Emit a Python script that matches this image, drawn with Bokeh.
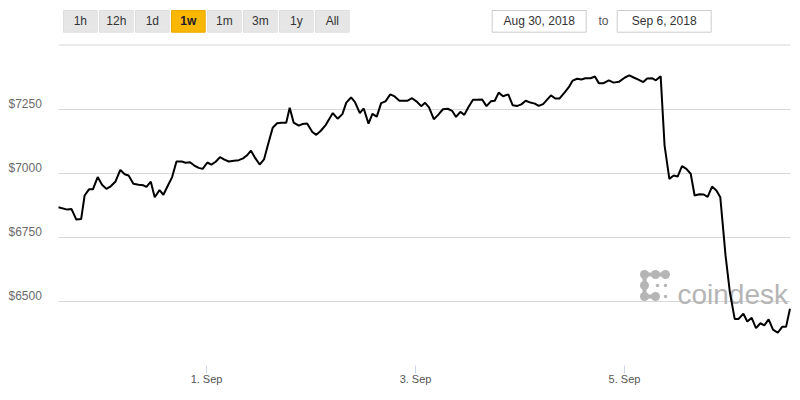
import pandas as pd
from bokeh.plotting import figure
from bokeh.models import (ColumnDataSource, Range1d, FixedTicker, DatetimeTickFormatter)
from bokeh.core.properties import value
from bokeh.embed import file_html
from bokeh.resources import INLINE

# ---------------- data ----------------
start_time = "2018-08-30 14:00"
hours = [0.0, 2.0, 3.0, 4.1, 5.2, 6.0, 7.0, 7.9, 9.0, 10.0,
         11.0, 12.0, 13.1, 14.2, 15.2, 16.1, 17.2, 18.4, 19.5, 20.2,
         21.2, 22.1, 23.2, 24.1, 25.1, 26.1, 27.1, 28.3, 29.2, 30.2,
         31.2, 32.2, 33.1, 34.2, 35.1, 36.1, 37.1, 38.1, 39.1, 40.3,
         41.4, 42.4, 43.3, 44.2, 45.2, 46.2, 47.2, 48.2, 49.2, 50.2,
         51.2, 52.3, 53.1, 54.0, 55.2, 56.0, 57.1, 58.3, 59.2, 60.2,
         61.4, 63.0, 64.1, 65.2, 66.1, 67.2, 68.1, 69.2, 70.1, 71.2,
         72.1, 73.1, 74.1, 75.1, 76.2, 77.2, 78.3, 80.1, 81.2, 82.2,
         83.3, 84.2, 85.1, 86.2, 87.2, 88.3, 89.4, 90.4, 91.3, 92.3,
         93.2, 94.1, 95.2, 96.3, 97.3, 98.3, 99.3, 100.2, 101.1, 102.1,
         103.3, 104.3, 105.4, 106.3, 107.3, 108.4, 109.4, 110.3, 111.3, 113.1,
         114.1, 115.1, 116.3, 117.2, 118.1, 119.1, 120.1, 121.0, 122.2, 123.2,
         124.1, 125.2, 126.4, 127.5, 128.7, 130.1, 131.1, 132.1, 133.3, 134.3,
         135.2, 136.4, 137.2, 138.3, 139.2, 140.3, 141.3, 142.2, 143.2, 144.2,
         145.2, 146.1, 147.2, 148.2, 149.1, 150.1, 151.1, 152.0, 153.2, 154.2,
         155.3, 156.2, 157.3, 158.2, 159.2, 160.2, 161.2, 162.1, 163.1, 164.1,
         165.2, 166.2, 167.1, 168.0]
prices = [6868, 6859, 6861, 6820, 6822, 6914, 6938, 6938, 6986, 6956,
          6940, 6950, 6969, 7014, 6997, 6992, 6960, 6956, 6954, 6948,
          6968, 6907, 6935, 6917, 6952, 6986, 7047, 7047, 7042, 7044,
          7031, 7022, 7018, 7043, 7035, 7046, 7064, 7054, 7047, 7050,
          7052, 7059, 7071, 7089, 7060, 7035, 7055, 7118, 7179, 7196,
          7198, 7198, 7257, 7199, 7187, 7193, 7195, 7162, 7151, 7166,
          7190, 7236, 7214, 7232, 7277, 7297, 7279, 7236, 7254, 7195,
          7233, 7222, 7275, 7282, 7309, 7301, 7284, 7284, 7294, 7282,
          7263, 7276, 7258, 7212, 7229, 7251, 7253, 7245, 7221, 7241,
          7229, 7258, 7288, 7288, 7289, 7263, 7282, 7284, 7316, 7302,
          7309, 7267, 7264, 7270, 7284, 7277, 7273, 7264, 7271, 7305,
          7293, 7293, 7318, 7337, 7363, 7370, 7367, 7372, 7372, 7379,
          7353, 7353, 7364, 7355, 7358, 7375, 7383, 7375, 7366, 7357,
          7371, 7372, 7364, 7380, 7109, 6979, 6992, 6988, 7029, 7018,
          6999, 6914, 6919, 6918, 6909, 6949, 6934, 6907, 6680, 6536,
          6432, 6432, 6452, 6422, 6436, 6396, 6415, 6407, 6430, 6390,
          6378, 6401, 6401, 6472]
y_ticks = [6500, 6750, 7000, 7250]
y_tick_labels = ["$6500", "$6750", "$7000", "$7250"]
x_ticks = ["2018-09-01", "2018-09-03", "2018-09-05"]
x_tick_labels = ["1. Sep", "3. Sep", "5. Sep"]
range_buttons = ["1h", "12h", "1d", "1w", "1m", "3m", "1y", "All"]
selected_button = "1w"
date_from = "Aug 30, 2018"
date_to = "Sep 6, 2018"
watermark = "coindesk"

assert len(hours) == len(prices)

FONT = "Liberation Sans"
W, H = 792, 392
BOTTOM = 27                 # space for the time axis
PLOT_LEFT, PLOT_TOP = 58, 45  # where the price area begins on the page

# time / price scales: the frame spans the whole figure except the axis strip
t0 = pd.Timestamp(start_time)
PX_PER_HOUR = 4.354
PX_PER_USD = 64 / 250.0
times = [t0 + pd.Timedelta(hours=h) for h in hours]
ms = lambda t: t.value / 1e6
x_start = ms(t0 - pd.Timedelta(hours=PLOT_LEFT / PX_PER_HOUR))
x_end = ms(t0 + pd.Timedelta(hours=(W - PLOT_LEFT) / PX_PER_HOUR))
t_last = ms(t0 + pd.Timedelta(hours=168.1))
frame_h = H - BOTTOM
y_low = 6250
y_high = y_low + frame_h / PX_PER_USD
x_tick_ms = [ms(pd.Timestamp(d)) for d in x_ticks]

p = figure(width=W, height=H, x_axis_type="datetime",
           x_range=Range1d(x_start, x_end), y_range=Range1d(y_low, y_high),
           toolbar_location=None, output_backend="svg", y_axis_location=None,
           min_border_left=0, min_border_right=0, min_border_top=0, min_border_bottom=BOTTOM)
p.outline_line_color = None
p.background_fill_color = "white"
p.border_fill_color = "white"
p.xgrid.visible = False
p.ygrid.visible = False

# page-pixel helper ranges for the chrome (range selector, watermark)
p.extra_x_ranges = {"px": Range1d(0, W)}
p.extra_y_ranges = {"px": Range1d(frame_h, 0)}

# horizontal grid lines, only across the price area
p.segment(x0=[ms(t0)] * len(y_ticks), x1=[t_last] * len(y_ticks), y0=y_ticks, y1=y_ticks,
          line_color="#d8d8d8", line_width=1)

# y labels, left aligned, sitting just above their grid lines
p.text(x=[ms(t0)] * len(y_ticks), y=y_ticks, text=y_tick_labels, x_offset=-50, y_offset=-6,
       text_align="left", text_baseline="middle", text_font=value(FONT),
       text_font_size="12px", text_color="#6a6a6a")

# time axis
xa = p.xaxis[0]
xa.ticker = FixedTicker(ticks=x_tick_ms)
xa.formatter = DatetimeTickFormatter(days="%-d. %b", hours="%-d. %b", months="%-d. %b")
xa.major_label_overrides = {m: lab for m, lab in zip(x_tick_ms, x_tick_labels)}
xa.axis_line_color = None
xa.major_tick_in = 0
xa.major_tick_out = 8
xa.major_tick_line_color = "#ccd6eb"
xa.minor_tick_line_color = None
xa.major_label_standoff = -1
xa.major_label_text_font = FONT
xa.major_label_text_font_size = "11px"
xa.major_label_text_color = "#555555"

# ---------------- range selector (top bar) ----------------
n = len(range_buttons)
bsrc = ColumnDataSource(dict(
    x=[79.85 + 36 * i for i in range(n)], y=[20.85] * n, text=range_buttons,
    fill=["#f9b700" if b == selected_button else "#e6e6e6" for b in range_buttons],
    line=["#e8a600" if b == selected_button else "#dedede" for b in range_buttons],
    weight=["bold" if b == selected_button else "normal" for b in range_buttons],
    tcol=["#1a1a2a" if b == selected_button else "#333333" for b in range_buttons]))
p.rect(x="x", y="y", width=33.7, height=21.7, fill_color="fill", line_color="line",
       line_width=1, source=bsrc, x_range_name="px", y_range_name="px")
p.text(x="x", y="y", text="text", text_font=value(FONT), text_font_size="12px",
       text_font_style="weight", text_color="tcol", text_align="center",
       text_baseline="middle", source=bsrc, x_range_name="px", y_range_name="px")

dsrc = ColumnDataSource(dict(x=[538.7, 663.7], y=[20.85, 20.85], text=[date_from, date_to]))
p.rect(x="x", y="y", width=94, height=21.7, fill_color="white", line_color="#cccccc",
       line_width=1, source=dsrc, x_range_name="px", y_range_name="px")
p.text(x="x", y="y", text="text", text_font=value(FONT), text_font_size="12px",
       text_color="#333333", text_align="center", text_baseline="middle", source=dsrc,
       x_range_name="px", y_range_name="px")
p.text(x=[603], y=[20.85], text=["to"], text_font=value(FONT), text_font_size="12px",
       text_color="#555555", text_align="center", text_baseline="middle",
       x_range_name="px", y_range_name="px")
p.segment(x0=[PLOT_LEFT], x1=[790], y0=[44.5], y1=[44.5], line_color="#d8d8d8",
          line_width=1, x_range_name="px", y_range_name="px")

# ---------------- watermark ----------------
WM = "#b5b5b5"
p.segment(x0=[644, 644, 644], y0=[274, 274, 296], x1=[665, 644, 655], y1=[274, 296, 296],
          line_color=WM, line_width=4, x_range_name="px", y_range_name="px")
p.scatter(x=[644, 655, 665, 644, 644, 655], y=[274, 274, 274, 285, 296, 296], size=9,
          fill_color=WM, line_color=None, x_range_name="px", y_range_name="px")
p.scatter(x=[657, 665, 665], y=[285, 285, 296], size=3.5,
          fill_color=WM, line_color=None, x_range_name="px", y_range_name="px")
p.text(x=[677], y=[294], text=[watermark], text_font=value(FONT), text_font_size="28px",
       text_color=WM, text_align="left", text_baseline="alphabetic",
       x_range_name="px", y_range_name="px")

# ---------------- price line ----------------
src = ColumnDataSource(dict(t=times, price=prices))
p.line(x="t", y="price", source=src, line_color="black", line_width=2)

open("out.html", "w").write(file_html(p, INLINE))
